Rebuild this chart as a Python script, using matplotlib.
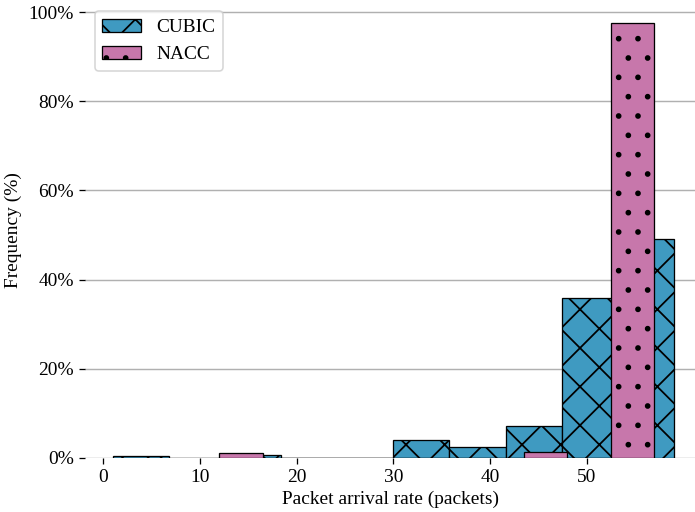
import numpy as np
import matplotlib
matplotlib.use('Agg')
import matplotlib.pyplot as plt
from matplotlib.ticker import PercentFormatter

# histogram bin edges and frequencies (%)
cubic_edges = [1.0, 6.8, 12.6, 18.4, 24.2, 30.0, 35.8, 41.6, 47.4, 53.2, 59.0]
cubic_freq = [0.35, 0.0, 0.65, 0.0, 0.0, 4.1, 2.5, 7.2, 35.8, 49.2]
nacc_edges = [12.0, 16.5, 21.0, 25.5, 30.0, 34.5, 39.0, 43.5, 48.0, 52.5, 57.0]
nacc_freq = [1.1, 0.0, 0.0, 0.0, 0.0, 0.0, 0.0, 1.4, 0.0, 97.5]

plt.rcParams['font.family'] = ['Liberation Serif', 'DejaVu Serif']
plt.rcParams['font.size'] = 12
plt.rcParams['hatch.linewidth'] = 1.1

dpi = 116
fig = plt.figure(figsize=(695 / dpi, 512 / dpi), dpi=dpi)
ax = fig.add_axes([85 / 695, 54 / 512, 610 / 695, (458.3 - 1.6) / 512])

ax.bar(cubic_edges[:-1], cubic_freq, width=np.diff(cubic_edges), align='edge',
       color='#3f9ac1', edgecolor='black', linewidth=0.8, hatch='x', label='CUBIC', zorder=2)
ax.bar(nacc_edges[:-1], nacc_freq, width=np.diff(nacc_edges), align='edge',
       color='#c777ab', edgecolor='black', linewidth=0.8, hatch='.', label='NACC', zorder=3)

ax.set_xlim(-1.9, 61.2)
ax.set_ylim(0, 102.4)
ax.set_yticks([0, 20, 40, 60, 80, 100])
ax.set_xticks([0, 10, 20, 30, 40, 50])
ax.yaxis.set_major_formatter(PercentFormatter(decimals=0))
ax.grid(axis='y', color='#b0b0b0', linewidth=0.9, zorder=0)
ax.set_axisbelow(True)
for s in ax.spines.values():
   s.set_visible(False)
ax.tick_params(length=3.5)

ax.set_xlabel('Packet arrival rate (packets)', labelpad=3)
ax.set_ylabel('Frequency (%)')
ax.legend(loc='upper left', fancybox=True)

fig.savefig('out.png', dpi=dpi)
